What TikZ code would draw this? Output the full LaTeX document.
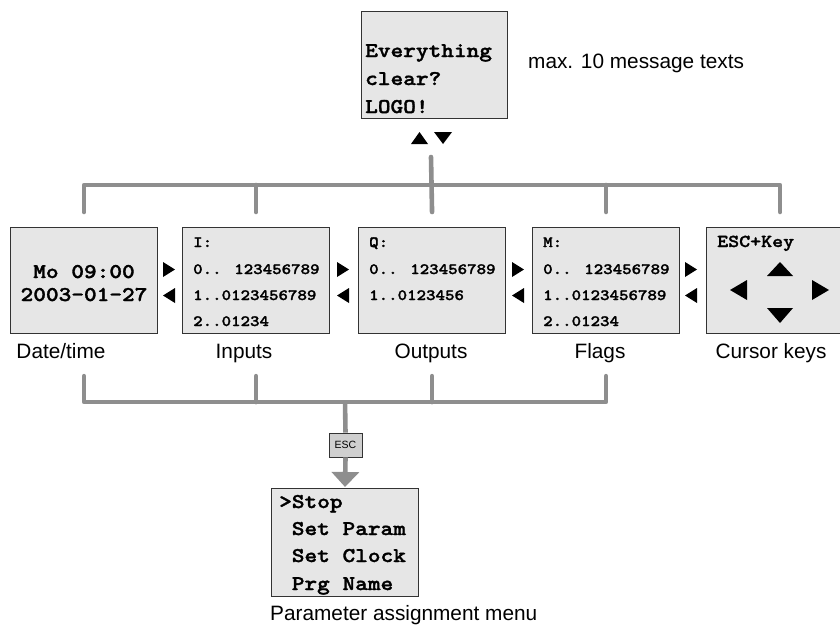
\documentclass[tikz,border=0pt]{standalone}
\usepackage{fontspec}
\setmainfont{Liberation Sans}
\newfontfamily\lcd{lmmonolt10-bold.otf}[FakeStretch=1.15,FakeBold=1.6]
\usetikzlibrary{arrows.meta}
\definecolor{lcdfill}{HTML}{E6E6E6}
\definecolor{busgray}{HTML}{8E8E8E}
\definecolor{escfill}{HTML}{CFCFCF}
\definecolor{edge}{HTML}{333333}
\tikzset{
  lcdbox/.style={draw=edge, fill=lcdfill, line width=1.1pt, minimum width=147pt, minimum height=106pt, anchor=north west, inner sep=0pt},
  bigtxt/.style={font=\lcd\fontsize{21}{24}\selectfont, inner sep=0pt, anchor=base west},
  smalltxt/.style={font=\lcd\fontsize{15.7}{18}\selectfont, inner sep=0pt, anchor=base west},
  lbl/.style={font=\fontsize{20.8}{24}\selectfont, inner sep=0pt, anchor=base},
  bus/.style={draw=busgray, line width=4.6pt, line cap=round, line join=round},
  rtri/.pic={\fill (0,-7.5) -- (12,0) -- (0,7.5) -- cycle;},
  ltri/.pic={\fill (12,-7.5) -- (0,0) -- (12,7.5) -- cycle;}
}
\begin{document}
\begin{tikzpicture}[x=1pt,y=-1pt]
\useasboundingbox (0,0) rectangle (840,624);
% top message box
\node[lcdbox, minimum width=146pt, minimum height=107pt] (top) at (361,11) {};
\node[bigtxt] (t1) at (365,57) {Everything};
\node[bigtxt] (t2) at (365,85) {clear?};
\node[bigtxt] (t3) at (365,113) {LOGO!};
\node[font=\fontsize{20.8}{24}\selectfont, inner sep=0pt, anchor=base west] (maxmsg) at (528,68) {max. 10 message texts};
\fill (411,144) -- (419.5,132) -- (428,144) -- cycle;
\fill (434,132) -- (443,144) -- (452,132) -- cycle;
% row of boxes
\node[lcdbox] (date) at (10,227) {};
\node[lcdbox] (inp) at (182,227) {};
\node[lcdbox] (out) at (358,227) {};
\node[lcdbox] (flg) at (532,227) {};
\node[lcdbox] (cur) at (706,227) {};
% date box
\node[bigtxt, anchor=base] (d1) at (84,278) {Mo 09:00};
\node[bigtxt, anchor=base] (d2) at (84,301) {2003-01-27};
% inputs
\node[smalltxt] (i0) at (193,247) {I:};
\node[smalltxt] (i1) at (193,274) {0.. 123456789};
\node[smalltxt] (i2) at (193,300) {1..0123456789};
\node[smalltxt] (i3) at (193,326) {2..01234};
% outputs
\node[smalltxt] (q0) at (369,247) {Q:};
\node[smalltxt] (q1) at (369,274) {0.. 123456789};
\node[smalltxt] (q2) at (369,300) {1..0123456};
% flags
\node[smalltxt] (m0) at (543,247) {M:};
\node[smalltxt] (m1) at (543,274) {0.. 123456789};
\node[smalltxt] (m2) at (543,300) {1..0123456789};
\node[smalltxt] (m3) at (543,326) {2..01234};
% cursor keys
\node[font=\lcd\fontsize{18.2}{20}\selectfont, inner sep=0pt, anchor=base west] (ek) at (717,247) {ESC+Key};
\fill (767,276) -- (780,262) -- (793,276) -- cycle;
\fill (767,308) -- (780,323) -- (793,308) -- cycle;
\fill (747,280) -- (730,290) -- (747,300) -- cycle;
\fill (812,280) -- (829,290) -- (812,300) -- cycle;
% navigation triangles between boxes
\foreach \x in {163,337,512,685}{
  \pic at (\x,269.5) {rtri};
  \pic at (\x,295.5) {ltri};
}
% labels
\node[lbl] (ldate) at (61,358) {Date/time};
\node[lbl] (linp) at (244,358) {Inputs};
\node[lbl] (lout) at (431,358) {Outputs};
\node[lbl] (lflg) at (600,358) {Flags};
\node[lbl] (lcur) at (771,358) {Cursor keys};
% top bus
\coordinate (stem) at (431,157);
\draw[bus] ([yshift=15pt]date.north) |- ([yshift=42pt]cur.north) -- ([yshift=15pt]cur.north);
\draw[bus] ([yshift=15pt]inp.north) -- ([yshift=42pt]inp.north);
\draw[bus] (stem) -- ([yshift=15pt]out.north);
\draw[bus] ([yshift=15pt]flg.north) -- ([yshift=42pt]flg.north);
% bottom bus
\draw[bus] ([yshift=-42pt]date.south) |- ([yshift=-68pt]flg.south) -- ([yshift=-42pt]flg.south);
\draw[bus] ([yshift=-42pt]inp.south) -- ([yshift=-68pt]inp.south);
\draw[bus] ([yshift=-42pt]out.south) -- ([yshift=-68pt]out.south);
% menu
\node[lcdbox, minimum width=147pt, minimum height=108pt] (menu) at (271,488) {};
\node[bigtxt] (p1) at (279,508) {>Stop};
\node[bigtxt] (p2) at (291.6,535) {Set Param};
\node[bigtxt] (p3) at (291.6,562) {Set Clock};
\node[bigtxt] (p4) at (291.6,590) {Prg Name};
\node[lbl, anchor=base west] (lmenu) at (270,620) {Parameter assignment menu};
% ESC key and arrow
\node[draw=edge, fill=escfill, line width=0.9pt, minimum width=33pt, minimum height=24pt, inner sep=0pt, font=\fontsize{10.5}{12}\selectfont] (esc) at (345.5,445) {ESC};
\coordinate (bj) at (345,401);
\draw[bus, line cap=butt] (bj) -- (esc.north);
\draw[bus, line cap=butt, -{Triangle[width=27pt,length=15pt]}] (esc.south) -- ([yshift=1pt]menu.north);
\end{tikzpicture}
\end{document}
